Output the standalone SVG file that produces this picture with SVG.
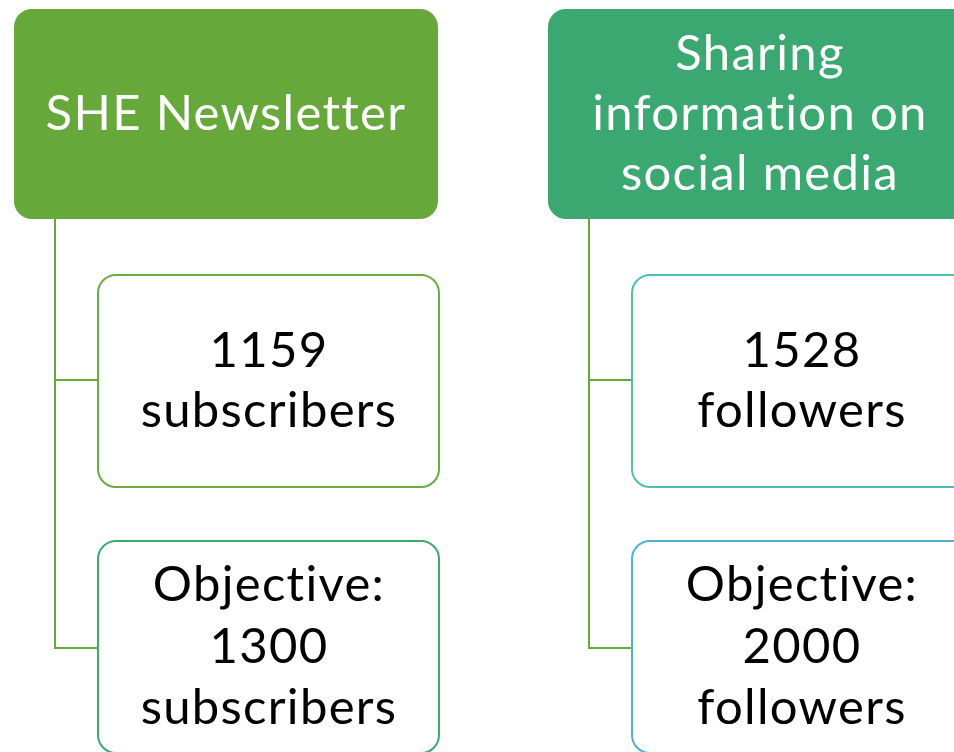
<svg xmlns="http://www.w3.org/2000/svg" width="954" height="752" viewBox="0 0 954 752">
<style>
.t{font-family:Lato,"Liberation Sans",sans-serif;font-size:49px;letter-spacing:1.3px;text-anchor:middle}
.w{fill:#ffffff}
.k{fill:#000000}
.c{fill:none;stroke:#66A83A;stroke-width:2}
.box{fill:#ffffff;stroke-width:2}
</style>
<rect width="954" height="752" fill="#ffffff"/>
<g id="connectors">
<path class="c" d="M55 219 V648 H98 M55 380 H98"/>
<path class="c" d="M589 219 V648 H632 M589 380 H632"/>
</g>
<g id="n1">
<rect x="14" y="9" width="424" height="210" rx="18" fill="#66A83A"/>
<text class="t w" x="226" y="130">SHE Newsletter</text>
</g>
<g id="n2">
<rect x="548" y="9" width="424" height="210" rx="18" fill="#3AA870"/>
<text class="t w" x="760" y="70">Sharing</text>
<text class="t w" x="760" y="130">information on</text>
<text class="t w" x="760" y="190">social media</text>
</g>
<g id="n3">
<rect class="box" x="98" y="275" width="341" height="212" rx="18" stroke="#6AAD42"/>
<text class="t k" x="269" y="367">1159</text>
<text class="t k" x="269" y="427">subscribers</text>
</g>
<g id="n4">
<rect class="box" x="98" y="541" width="341" height="212" rx="18" stroke="#3DAA70"/>
<text class="t k" x="269" y="601">Objective:</text>
<text class="t k" x="269" y="663">1300</text>
<text class="t k" x="269" y="724">subscribers</text>
</g>
<g id="n5">
<rect class="box" x="632" y="275" width="341" height="212" rx="18" stroke="#4CC0B2"/>
<text class="t k" x="802" y="367">1528</text>
<text class="t k" x="802" y="427">followers</text>
</g>
<g id="n6">
<rect class="box" x="632" y="541" width="341" height="212" rx="18" stroke="#4BB4D2"/>
<text class="t k" x="802" y="601">Objective:</text>
<text class="t k" x="802" y="663">2000</text>
<text class="t k" x="802" y="724">followers</text>
</g>
</svg>
